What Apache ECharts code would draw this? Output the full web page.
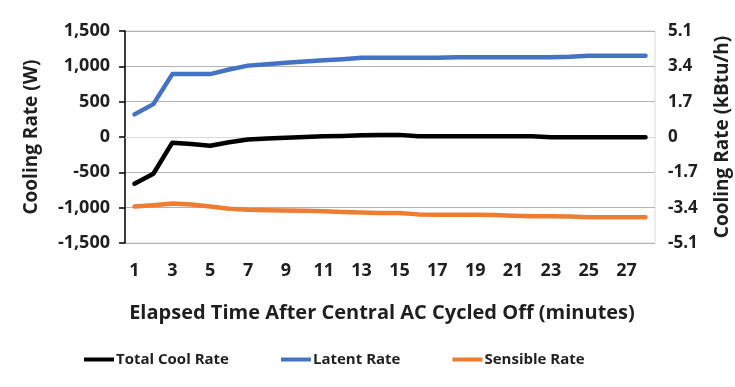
<!DOCTYPE html>
<html>
<head>
<meta charset="utf-8">
<script src="https://cdn.jsdelivr.net/npm/echarts@6/dist/echarts.min.js"></script>
<style>
  html, body { margin: 0; padding: 0; background: #ffffff; }
  #chart { width: 735px; height: 387px; }
</style>
</head>
<body>
<div id="chart"></div>
<script>
// Minutes after the AC cycled off
const minutes = [1, 2, 3, 4, 5, 6, 7, 8, 9, 10, 11, 12, 13, 14, 15, 16, 17, 18, 19, 20, 21, 22, 23, 24, 25, 26, 27, 28];

// Cooling rates in W
const totalCoolRate = [-660, -520, -80, -100, -125, -75, -35, -20, -10, 0, 10, 15, 25, 30, 30, 10, 10, 10, 10, 10, 10, 10, -5, -5, -5, -5, -5, -5];
const latentRate = [320, 465, 890, 890, 890, 955, 1010, 1030, 1050, 1070, 1085, 1100, 1120, 1120, 1120, 1120, 1120, 1130, 1130, 1130, 1130, 1130, 1130, 1135, 1150, 1150, 1150, 1150];
const sensibleRate = [-985, -965, -940, -955, -985, -1015, -1030, -1035, -1040, -1045, -1050, -1060, -1070, -1075, -1075, -1095, -1100, -1100, -1100, -1105, -1115, -1120, -1120, -1125, -1135, -1135, -1135, -1135];

const seriesNames = ['Total Cool Rate', 'Latent Rate', 'Sensible Rate'];
const seriesColors = ['#000000', '#4472C4', '#ED7D31'];

const font = '"Open Sans", "Noto Sans", sans-serif';
const textColor = '#1f1f1f';

const chart = echarts.init(document.getElementById('chart'));

const makeLine = (name, data, color) => ({
  name: name,
  type: 'line',
  data: data,
  yAxisIndex: 0,
  symbol: 'none',
  color: color,
  lineStyle: { width: 4.5, color: color, cap: 'round', join: 'round' },
});

const option = {
  animation: false,
  backgroundColor: '#ffffff',
  textStyle: { fontFamily: font },
  grid: {
    left: 125,
    right: 80,
    top: 31,
    bottom: 144,
    outerBoundsMode: 'none',
    show: true,
    borderColor: '#d9d9d9',
    borderWidth: 1,
  },
  legend: {
    left: 79,
    top: 347,
    itemGap: 52,
    itemWidth: 30,
    itemHeight: 4,
    icon: 'rect',
    data: seriesNames,
    textStyle: {
      fontFamily: font,
      fontWeight: 'bold',
      fontSize: 15,
      color: textColor,
      padding: [0, 0, 0, -3],
    },
  },
  xAxis: {
    type: 'category',
    data: minutes,
    boundaryGap: true,
    name: 'Elapsed Time After Central AC Cycled Off (minutes)',
    nameLocation: 'middle',
    nameGap: 60,
    nameTextStyle: {
      fontFamily: font,
      fontWeight: 'bold',
      fontSize: 20,
      color: textColor,
      padding: [0, 16, 0, 0],
    },
    axisLine: { show: true, lineStyle: { color: '#d9d9d9', width: 1 } },
    axisTick: { show: false },
    axisLabel: {
      interval: 1,
      margin: 19,
      fontFamily: font,
      fontWeight: 'bold',
      fontSize: 18,
      color: textColor,
    },
  },
  yAxis: [
    {
      type: 'value',
      min: -1500,
      max: 1500,
      interval: 500,
      name: 'Cooling Rate (W)',
      nameLocation: 'middle',
      nameGap: 84,
      nameRotate: 90,
      nameTextStyle: {
        fontFamily: font,
        fontWeight: 'bold',
        fontSize: 19,
        color: textColor,
      },
      axisLine: { show: true, lineStyle: { color: '#000000', width: 1.5 } },
      axisTick: { show: true, length: 6, lineStyle: { color: '#000000', width: 1.5 } },
      splitLine: { show: true, lineStyle: { color: '#b3b3b3', width: 1 } },
      axisLabel: {
        margin: 15,
        fontFamily: font,
        fontWeight: 'bold',
        fontSize: 18,
        color: textColor,
        formatter: v => v.toLocaleString('en-US'),
      },
    },
    {
      type: 'value',
      position: 'right',
      min: -5.1,
      max: 5.1,
      interval: 1.7,
      name: 'Cooling Rate (kBtu/h)',
      nameLocation: 'middle',
      nameGap: 58,
      nameRotate: 90,
      nameTextStyle: {
        fontFamily: font,
        fontWeight: 'bold',
        fontSize: 19,
        color: textColor,
      },
      axisLine: { show: false },
      axisTick: { show: false },
      splitLine: { show: false },
      axisLabel: {
        margin: 13,
        fontFamily: font,
        fontWeight: 'bold',
        fontSize: 17,
        color: textColor,
        formatter: v => (Math.abs(v) < 1e-9 ? '0' : v.toFixed(1)),
      },
    },
  ],
  series: [
    makeLine(seriesNames[0], totalCoolRate, seriesColors[0]),
    makeLine(seriesNames[1], latentRate, seriesColors[1]),
    makeLine(seriesNames[2], sensibleRate, seriesColors[2]),
  ],
};

chart.setOption(option);
</script>
</body>
</html>
